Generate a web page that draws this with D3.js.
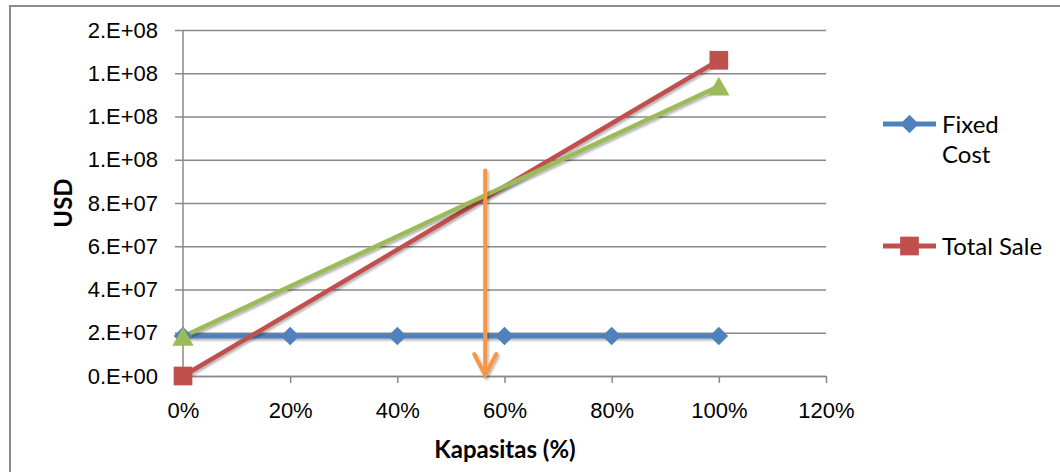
<!DOCTYPE html>
<html>
<head>
<meta charset="utf-8">
<script src="https://cdn.jsdelivr.net/npm/d3@7"></script>
<style>
  html, body { margin: 0; padding: 0; background: #fff; }
  svg { display: block; font-family: Lato, "Open Sans", sans-serif; }
</style>
</head>
<body>
<svg id="chart" width="1060" height="472"></svg>
<script>
// Capacity levels (fraction of full capacity)
const capacity = [0, 0.2, 0.4, 0.6, 0.8, 1.0];
// Fixed cost stays flat at every capacity level
const fixedCost = [1.85e7, 1.85e7, 1.85e7, 1.85e7, 1.85e7, 1.85e7];
// Total sale and total cost are drawn between 0% and 100%
const saleCapacity = [0, 1.0];
const totalSale = [0, 1.46e8];
const costCapacity = [0, 1.0];
const totalCost = [1.83e7, 1.34e8];
// Break-even marker: capacity and the value where the arrow starts
const breakEvenCapacity = 0.564;
const arrowTop = 9.5e7;

const xTicks = [0, 0.2, 0.4, 0.6, 0.8, 1.0, 1.2];
const yTicks = [0, 2e7, 4e7, 6e7, 8e7, 1e8, 1.2e8, 1.4e8, 1.6e8];

const legendNames = ["Fixed Cost", "Total Sale"];

const colors = { fixed: "#4F81BD", sale: "#C0504D", cost: "#9BBB59", arrow: "#F79646" };

const svg = d3.select("#chart");
const plot = { left: 183, right: 826, top: 30, bottom: 376 };

const x = d3.scaleLinear().domain([0, 1.2]).range([plot.left, plot.right]);
const y = d3.scaleLinear().domain([0, 1.6e8]).range([plot.bottom, plot.top]);

// Drop shadow for lines and the arrow (user-space region so flat lines keep it)
const defs = svg.append("defs");
const f = defs.append("filter").attr("id", "shadow").attr("filterUnits", "userSpaceOnUse")
  .attr("x", 0).attr("y", 0).attr("width", 1060).attr("height", 472);
f.append("feDropShadow").attr("dx", 1.5).attr("dy", 2).attr("stdDeviation", 1.2)
  .attr("flood-color", "#000").attr("flood-opacity", 0.3);

// Chart outer frame
svg.append("rect").attr("x", 10).attr("y", 6).attr("width", 1100).attr("height", 520)
  .attr("fill", "none").attr("stroke", "#8c8c8c").attr("stroke-width", 2);

function sciFormat(d) {
  if (d === 0) return "0.E+00";
  let e = Math.floor(Math.log10(d));
  let m = Math.round(d / Math.pow(10, e));
  if (m === 10) { m = 1; e += 1; }
  return m + ".E+" + String(e).padStart(2, "0");
}

// Y axis with gridlines
const yAxis = d3.axisLeft(y).tickValues(yTicks).tickFormat(sciFormat)
  .tickSizeInner(plot.right - plot.left + 8).tickSizeOuter(0).tickPadding(17);
const gy = svg.append("g").attr("transform", `translate(${plot.right},0)`).call(yAxis);
gy.select(".domain").remove();
gy.selectAll(".tick line").attr("stroke", "#8a8a8a").attr("stroke-width", 1.5);
gy.selectAll(".tick text").attr("fill", "#000").style("font-size", "22px");

// Y axis line
svg.append("line").attr("x1", plot.left).attr("x2", plot.left)
  .attr("y1", plot.top).attr("y2", plot.bottom)
  .attr("stroke", "#8a8a8a").attr("stroke-width", 1.5);

// X axis
const xAxis = d3.axisBottom(x).tickValues(xTicks).tickFormat(d3.format(".0%"))
  .tickSizeInner(7).tickSizeOuter(0).tickPadding(19);
const gx = svg.append("g").attr("transform", `translate(0,${plot.bottom})`).call(xAxis);
gx.select(".domain").attr("stroke", "#8a8a8a").attr("stroke-width", 1.5);
gx.selectAll(".tick line").attr("stroke", "#8a8a8a").attr("stroke-width", 1.5);
gx.selectAll(".tick text").attr("fill", "#000").style("font-size", "22px");

// Axis titles
svg.append("text").attr("x", 505).attr("y", 458).attr("text-anchor", "middle")
  .style("font-size", "24px").style("font-weight", "bold").text("Kapasitas (%)");
svg.append("text").attr("transform", `translate(72,${(plot.top + plot.bottom) / 2}) rotate(-90)`)
  .attr("text-anchor", "middle").style("font-size", "24px").style("font-weight", "bold").text("USD");

const line = d3.line().x(d => x(d[0])).y(d => y(d[1]));

// Fixed cost series
const fixedPts = capacity.map((c, i) => [c, fixedCost[i]]);
svg.append("path").datum(fixedPts).attr("d", line).attr("fill", "none")
  .attr("stroke", colors.fixed).attr("stroke-width", 5).attr("filter", "url(#shadow)");

// Total sale series
const salePts = saleCapacity.map((c, i) => [c, totalSale[i]]);
svg.append("path").datum(salePts).attr("d", line).attr("fill", "none")
  .attr("stroke", colors.sale).attr("stroke-width", 4.5).attr("filter", "url(#shadow)");

// Total cost series
const costPts = costCapacity.map((c, i) => [c, totalCost[i]]);
svg.append("path").datum(costPts).attr("d", line).attr("fill", "none")
  .attr("stroke", colors.cost).attr("stroke-width", 4.5).attr("filter", "url(#shadow)");

const diamond = d3.symbol().type(d3.symbolDiamond2).size(220);
const square = d3.symbol().type(d3.symbolSquare).size(350);
const triangle = d3.symbol().type(d3.symbolTriangle).size(200);

svg.append("g").selectAll("path").data(fixedPts).join("path")
  .attr("transform", d => `translate(${x(d[0])},${y(d[1])})`)
  .attr("d", diamond).attr("fill", colors.fixed);
svg.append("g").selectAll("path").data(salePts).join("path")
  .attr("transform", d => `translate(${x(d[0])},${y(d[1])})`)
  .attr("d", square).attr("fill", colors.sale);
// triangle symbol is centroid-centred; shift so its box is centred on the point
svg.append("g").selectAll("path").data(costPts).join("path")
  .attr("transform", d => `translate(${x(d[0])},${y(d[1]) + 3})`)
  .attr("d", triangle).attr("fill", colors.cost);

// Break-even arrow
const ax = x(breakEvenCapacity), ay0 = y(arrowTop), ay1 = y(0);
const arrow = svg.append("g").attr("filter", "url(#shadow)")
  .attr("stroke", colors.arrow).attr("fill", "none").attr("stroke-width", 4).attr("stroke-linecap", "round");
arrow.append("line").attr("x1", ax).attr("x2", ax).attr("y1", ay0).attr("y2", ay1 - 2);
arrow.append("path").attr("d", `M${ax - 11},${ay1 - 22} L${ax},${ay1 - 1} L${ax + 11},${ay1 - 22}`)
  .attr("stroke-linejoin", "miter");

// Legend
const legend = svg.append("g");
const lg = [
  { name: legendNames[0], color: colors.fixed, sym: diamond, y: 124 },
  { name: legendNames[1], color: colors.sale, sym: square, y: 246 }
];
lg.forEach(d => {
  legend.append("line").attr("x1", 883).attr("x2", 936).attr("y1", d.y).attr("y2", d.y)
    .attr("stroke", d.color).attr("stroke-width", 5);
  legend.append("path").attr("transform", `translate(909.5,${d.y})`).attr("d", d.sym).attr("fill", d.color);
});
const t1 = legend.append("text").attr("x", 942).attr("y", 133).style("font-size", "24px");
t1.append("tspan").attr("x", 942).text("Fixed");
t1.append("tspan").attr("x", 942).attr("dy", 30).text("Cost");
legend.append("text").attr("x", 942).attr("y", 255).style("font-size", "24px").text(legendNames[1]);
</script>
</body>
</html>
